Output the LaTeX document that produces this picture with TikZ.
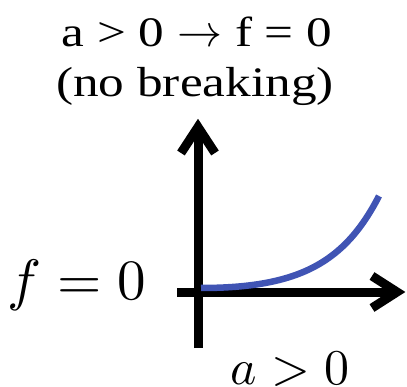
\documentclass[tikz,border=0pt]{standalone}
\usepackage{graphicx}
\usepackage{fontspec}
\newfontfamily\titlefont[FakeStretch=1.22]{Liberation Serif}
\definecolor{curveblue}{RGB}{64,84,180}
\newcommand{\bigarrow}{\scalebox{4.5}{\fontsize{10}{12}\selectfont$\rightarrow$}}
\tikzset{
  axis/.style={line width=9pt, black},
  tiphead/.style={line width=9pt, black, line join=miter},
  curve/.style={line width=6.5pt, curveblue},
  toplabel/.style={inner sep=0pt, anchor=base, font=\fontsize{42}{50}\selectfont\titlefont},
}
\begin{document}
\begin{tikzpicture}[x=1pt,y=-1pt]
\useasboundingbox (0,0) rectangle (407,387);
% title
\node[toplabel] (t1) at (197,47) {a > 0 \bigarrow{} f = 0};
\node[toplabel] (t2) at (195,97) {(no breaking)};
% axes
\coordinate (o) at (198,293);
\draw[axis] (198,348) -- (198,130);
\draw[axis] (177,293) -- (398,293);
\draw[tiphead] (181,153) -- (198,127) -- (215,153);
\draw[tiphead] (372,276) -- (397,292) -- (372,308);
% curve
\draw[curve] (201,288) .. controls (300,288) and (345,262) .. (379,196);
% labels
\node[inner sep=0pt, anchor=base east, scale=5.7] (f0) at (147,300) {$f=0$};
\node[inner sep=0pt, anchor=base east, scale=5.0] (a0) at (350,384) {$a>0$};
\end{tikzpicture}
\end{document}
